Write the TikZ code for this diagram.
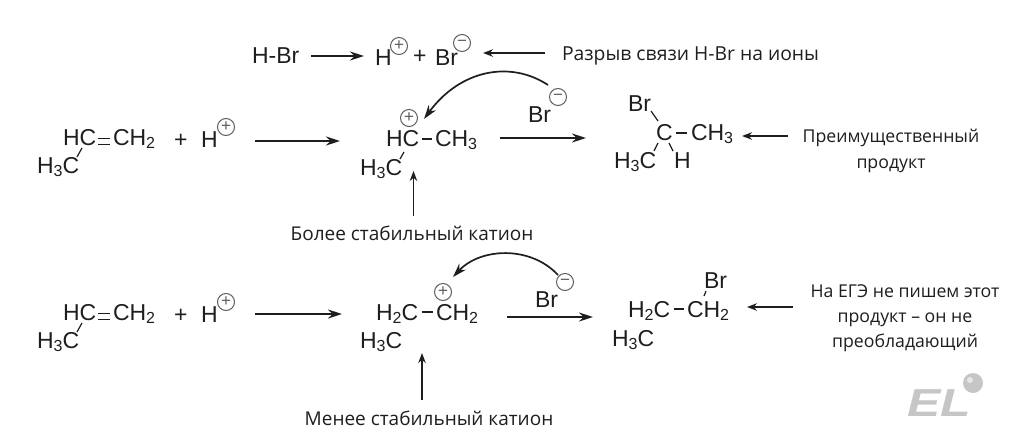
\documentclass[tikz,border=0pt]{standalone}
\usepackage{fontspec}
\usepackage{graphicx}
\setmainfont{Liberation Sans}
\newfontfamily\labelfont{Open Sans}
\usetikzlibrary{arrows.meta}
\definecolor{ink}{HTML}{1E1E1E}
\definecolor{signgray}{HTML}{5E5E5E}
\definecolor{logogray}{HTML}{C6C6C6}
\newcommand{\lowdig}[1]{\raisebox{-3.5pt}{\fontsize{16}{16}\selectfont #1}}
\tikzset{
  chem/.style={anchor=base west,inner sep=0pt,outer sep=0pt,text=ink,font=\fontsize{23}{25}\selectfont},
  lab/.style={anchor=base,inner sep=0pt,outer sep=0pt,text=ink,font=\labelfont\fontsize{19}{21}\selectfont},
  toplab/.style={lab,font=\labelfont\fontsize{19.3}{21}\selectfont},
  sidelab/.style={lab,font=\labelfont\fontsize{17.7}{20}\selectfont},
  sign/.style={circle,draw=signgray,line width=1pt,minimum size=17pt,inner sep=0pt,text=signgray,font=\fontsize{17}{17}\selectfont},
  bond/.style={draw=ink,line width=1.2pt},
  dbond/.style={draw=ink,line width=1pt},
  rx/.style={draw=ink,line width=1.7pt,-{Stealth[length=14pt,width=9pt]}},
  pt/.style={draw=ink,line width=1.5pt,-{Stealth[length=10pt,width=7.5pt]}},
  curv/.style={draw=ink,line width=1.7pt,-{Stealth[length=14pt,width=9pt]}},
}
\begin{document}
\begin{tikzpicture}[x=1pt,y=-1pt]
\useasboundingbox (0,0) rectangle (1024,434);
% top line
\node[chem] (hbr) at (252,63) {H-Br};
\node[chem] (hion) at (375,65) {H};
\node[sign] (hionp) at (399,46) {+};
\node[chem] (tplus) at (413,63) {+};
\node[chem] (brion) at (435,65) {Br};
\node[sign] (brionm) at (462,43) {−};
\node[toplab,anchor=base west] (l1) at (562,60) {Разрыв связи H-Br на ионы};
\coordinate (a1s) at (311,56); \coordinate (a1e) at (364,56);
\draw[rx] (a1s) -- (a1e);
\coordinate (a2s) at (545,53); \coordinate (a2e) at (483,53);
\draw[pt] (a2s) -- (a2e);
% row 1 reactant
\node[chem] (r1a) at (63,145) {HC};
\node[chem] (r1b) at (113,145) {CH\lowdig{2}};
\node[chem] (r1c) at (37,173) {H\lowdig{3}C};
\node[chem] (r1p) at (174,147) {+};
\node[chem] (r1h) at (201,147) {H};
\node[sign] (r1s) at (226,127) {+};
\coordinate (d1a) at (98,138); \coordinate (d1b) at (110,138);
\coordinate (d2a) at (98,144); \coordinate (d2b) at (110,144);
\draw[dbond] (d1a) -- (d1b); \draw[dbond] (d2a) -- (d2b);
\coordinate (b1a) at (82,148); \coordinate (b1b) at (77,157);
\draw[bond] (b1a) -- (b1b);
\coordinate (a3s) at (255,141); \coordinate (a3e) at (340,141);
\draw[rx] (a3s) -- (a3e);
% row 1 cation
\node[chem] (c1a) at (386,146) {HC};
\node[chem] (c1b) at (435,146) {CH\lowdig{3}};
\node[chem] (c1c) at (360,175) {H\lowdig{3}C};
\node[sign] (c1s) at (409,118) {+};
\coordinate (b2a) at (422,139); \coordinate (b2b) at (432,139);
\draw[bond] (b2a) -- (b2b);
\coordinate (b3a) at (404,152); \coordinate (b3b) at (400,159);
\draw[bond] (b3a) -- (b3b);
\node[chem] (c1br) at (528,122) {Br};
\node[sign] (c1m) at (558,97) {−};
\coordinate (c1ts) at (548,85); \coordinate (c1te) at (424,119);
\draw[curv] (c1ts) .. controls (510,60) and (460,70) .. (c1te);
\coordinate (a4s) at (500,138); \coordinate (a4e) at (586,138);
\draw[rx] (a4s) -- (a4e);
\coordinate (a5s) at (413.5,216); \coordinate (a5e) at (413.5,171);
\draw[pt] (a5s) -- (a5e);
\node[lab] (l2) at (412,240) {Более стабильный катион};
% row 1 product
\node[chem] (p1br) at (628,111) {Br};
\node[chem] (p1c) at (656,140) {C};
\node[chem] (p1d) at (691,140) {CH\lowdig{3}};
\node[chem] (p1e) at (614,168) {H\lowdig{3}C};
\node[chem] (p1h) at (674,168) {H};
\coordinate (b4a) at (651,111); \coordinate (b4b) at (658,121);
\draw[bond] (b4a) -- (b4b);
\coordinate (b5a) at (676,133); \coordinate (b5b) at (687,133);
\draw[bond] (b5a) -- (b5b);
\coordinate (b6a) at (658,143); \coordinate (b6b) at (654,151);
\draw[bond] (b6a) -- (b6b);
\coordinate (b7a) at (669,143); \coordinate (b7b) at (673,151);
\draw[bond] (b7a) -- (b7b);
\coordinate (a6s) at (788,136); \coordinate (a6e) at (742,136);
\draw[pt] (a6s) -- (a6e);
\node[sidelab] (l3a) at (891,142) {Преимущественный};
\node[sidelab] (l3b) at (891,168) {продукт};
% row 2 reactant
\node[chem] (r2a) at (63,320) {HC};
\node[chem] (r2b) at (113,320) {CH\lowdig{2}};
\node[chem] (r2c) at (37,348) {H\lowdig{3}C};
\node[chem] (r2p) at (174,322) {+};
\node[chem] (r2h) at (201,322) {H};
\node[sign] (r2s) at (226,302) {+};
\coordinate (d3a) at (98,313); \coordinate (d3b) at (110,313);
\coordinate (d4a) at (98,319); \coordinate (d4b) at (110,319);
\draw[dbond] (d3a) -- (d3b); \draw[dbond] (d4a) -- (d4b);
\coordinate (b8a) at (82,323); \coordinate (b8b) at (77,332);
\draw[bond] (b8a) -- (b8b);
\coordinate (a7s) at (255,314); \coordinate (a7e) at (342,314);
\draw[rx] (a7s) -- (a7e);
% row 2 cation
\node[chem] (c2a) at (376,320) {H\lowdig{2}C};
\node[chem] (c2b) at (436,320) {CH\lowdig{2}};
\node[chem] (c2c) at (360,348) {H\lowdig{3}C};
\node[sign] (c2s) at (443,292) {+};
\coordinate (b9a) at (422,312); \coordinate (b9b) at (433,312);
\draw[bond] (b9a) -- (b9b);
\node[chem] (c2br) at (535,307) {Br};
\node[sign] (c2m) at (565,282) {−};
\coordinate (c2ts) at (558,275); \coordinate (c2te) at (453,277);
\draw[curv] (c2ts) .. controls (530,245) and (480,248) .. (c2te);
\coordinate (a8s) at (507,317); \coordinate (a8e) at (593,317);
\draw[rx] (a8s) -- (a8e);
\coordinate (a9s) at (422,400); \coordinate (a9e) at (422,353);
\draw[pt] (a9s) -- (a9e);
\node[lab] (l4) at (429,425) {Менее стабильный катион};
% row 2 product
\node[chem] (p2br) at (704,288) {Br};
\node[chem] (p2a) at (628,317) {H\lowdig{2}C};
\node[chem] (p2b) at (687,317) {CH\lowdig{2}};
\node[chem] (p2c) at (612,346) {H\lowdig{3}C};
\coordinate (b10a) at (674,309); \coordinate (b10b) at (684,309);
\draw[bond] (b10a) -- (b10b);
\coordinate (b11a) at (706,291); \coordinate (b11b) at (704,296);
\draw[bond] (b11a) -- (b11b);
\coordinate (a10s) at (793,307); \coordinate (a10e) at (747,307);
\draw[pt] (a10s) -- (a10e);
\node[sidelab] (l5a) at (905,297) {На ЕГЭ не пишем этот};
\node[sidelab] (l5b) at (905,322) {продукт – он не};
\node[sidelab] (l5c) at (905,347) {преобладающий};
% logo
\node[anchor=base west,inner sep=0pt,text=logogray,font=\fontsize{39}{39}\selectfont\bfseries\itshape] (logo) at (907,416) {\scalebox{1.28}[1]{EL}};
\fill[logogray] (973,383) circle (10);
\fill[white!60!logogray] (970,380) circle (3);
\end{tikzpicture}
\end{document}
